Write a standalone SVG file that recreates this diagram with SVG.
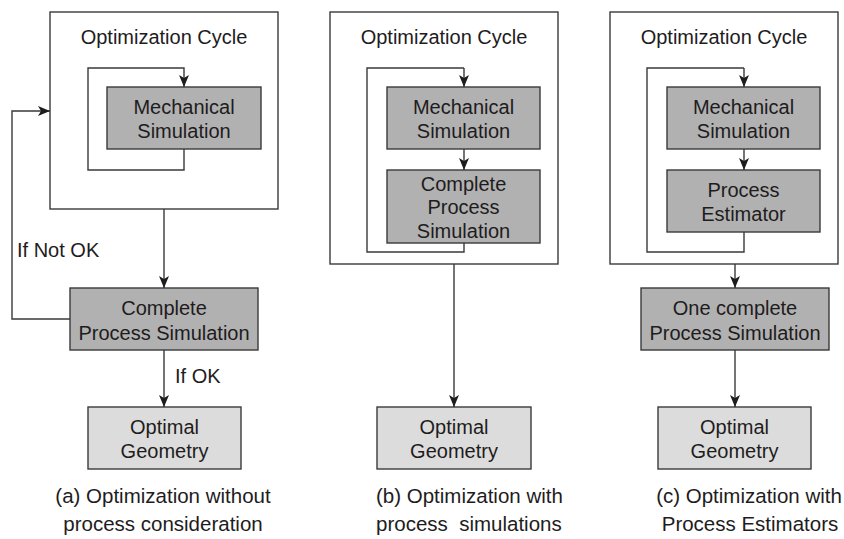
<svg xmlns="http://www.w3.org/2000/svg" width="844" height="539" viewBox="0 0 844 539">
  <style>
    .frame { fill: #ffffff; stroke: #3a3a3a; stroke-width: 1.4; }
    .dark { fill: #b1b1b1; stroke: #3a3a3a; stroke-width: 1.4; }
    .light { fill: #dcdcdc; stroke: #3a3a3a; stroke-width: 1.4; }
    .wire { fill: none; stroke: #3a3a3a; stroke-width: 1.4; }
    .arrow { marker-end: url(#head); }
    text { font-family: "Liberation Sans", Arial, sans-serif; font-size: 20px; fill: #1e1c1d; }
    .c { text-anchor: middle; }
    .cap { font-size: 20.5px; }
  </style>
  <defs>
    <marker id="head" viewBox="0 0 12 10" refX="12" refY="5" markerWidth="12" markerHeight="10" markerUnits="userSpaceOnUse" orient="auto">
      <path d="M0,0 L12,5 L0,10 L3,5 Z" fill="#1e1c1d"/>
    </marker>
  </defs>

  <!-- Panel (a): optimization without process consideration -->
  <g id="a-cycle">
    <rect class="frame" x="50" y="12" width="228" height="197"/>
    <text class="c" x="164" y="44">Optimization Cycle</text>
  </g>
  <g id="a-mech">
    <rect class="dark" x="107" y="87" width="154" height="62"/>
    <text class="c" x="184" y="114">Mechanical</text>
    <text class="c" x="184" y="138">Simulation</text>
  </g>
  <g id="a-process">
    <rect class="dark" x="70" y="288" width="188" height="62"/>
    <text class="c" x="164" y="315">Complete</text>
    <text class="c" x="164" y="340">Process Simulation</text>
  </g>
  <g id="a-optimal">
    <rect class="light" x="88" y="407" width="153" height="62"/>
    <text class="c" x="164.5" y="434">Optimal</text>
    <text class="c" x="164.5" y="458">Geometry</text>
  </g>
  <g id="a-caption">
    <text class="c cap" x="163" y="503">(a) Optimization without</text>
    <text class="c cap" x="163" y="531">process consideration</text>
  </g>

  <!-- Panel (b): optimization with process simulations -->
  <g id="b-cycle">
    <rect class="frame" x="330" y="12" width="228" height="252"/>
    <text class="c" x="444" y="44">Optimization Cycle</text>
  </g>
  <g id="b-mech">
    <rect class="dark" x="387" y="87" width="153" height="62"/>
    <text class="c" x="463.5" y="114">Mechanical</text>
    <text class="c" x="463.5" y="138">Simulation</text>
  </g>
  <g id="b-process">
    <rect class="dark" x="387" y="170" width="153" height="73"/>
    <text class="c" x="463.5" y="190.5">Complete</text>
    <text class="c" x="463.5" y="214">Process</text>
    <text class="c" x="463.5" y="237.5">Simulation</text>
  </g>
  <g id="b-optimal">
    <rect class="light" x="377" y="407" width="154" height="62"/>
    <text class="c" x="454" y="434">Optimal</text>
    <text class="c" x="454" y="458">Geometry</text>
  </g>
  <g id="b-caption">
    <text class="cap" x="376" y="503">(b) Optimization with</text>
    <text class="cap" x="376" y="531" xml:space="preserve">process  simulations</text>
  </g>

  <!-- Panel (c): optimization with process estimators -->
  <g id="c-cycle">
    <rect class="frame" x="610" y="12" width="228" height="252"/>
    <text class="c" x="724" y="44">Optimization Cycle</text>
  </g>
  <g id="c-mech">
    <rect class="dark" x="667" y="87" width="153" height="62"/>
    <text class="c" x="743.5" y="114">Mechanical</text>
    <text class="c" x="743.5" y="138">Simulation</text>
  </g>
  <g id="c-estimator">
    <rect class="dark" x="667" y="170" width="153" height="62"/>
    <text class="c" x="743.5" y="197">Process</text>
    <text class="c" x="743.5" y="221">Estimator</text>
  </g>
  <g id="c-process">
    <rect class="dark" x="641" y="288" width="188" height="62"/>
    <text class="c" x="735" y="315">One complete</text>
    <text class="c" x="735" y="340">Process Simulation</text>
  </g>
  <g id="c-optimal">
    <rect class="light" x="658" y="407" width="153" height="62"/>
    <text class="c" x="734.5" y="434">Optimal</text>
    <text class="c" x="734.5" y="458">Geometry</text>
  </g>
  <g id="c-caption">
    <text class="c cap" x="749" y="503">(c) Optimization with</text>
    <text class="c cap" x="750" y="531">Process Estimators</text>
  </g>

  <!-- Connectors -->
  <g id="connectors">
    <!-- panel (a) -->
    <path class="wire arrow" d="M184,149 V170 H88 V68 H184 V87"/>
    <path class="wire arrow" d="M164,209 V288"/>
    <path class="wire arrow" d="M70,319 H12 V111 H50"/>
    <path class="wire arrow" d="M164,350 V407"/>
    <text x="17" y="257">If Not OK</text>
    <text x="175" y="383">If OK</text>
    <!-- panel (b) -->
    <path class="wire" d="M464,243 V252 H367 V68 H464"/>
    <path class="wire arrow" d="M464,68 V87"/>
    <path class="wire arrow" d="M464,149 V170"/>
    <path class="wire arrow" d="M454,264 V407"/>
    <!-- panel (c) -->
    <path class="wire" d="M744,232 V252 H647 V68 H744"/>
    <path class="wire arrow" d="M744,68 V87"/>
    <path class="wire arrow" d="M744,149 V170"/>
    <path class="wire arrow" d="M735,264 V288"/>
    <path class="wire arrow" d="M735,350 V407"/>
  </g>
</svg>
